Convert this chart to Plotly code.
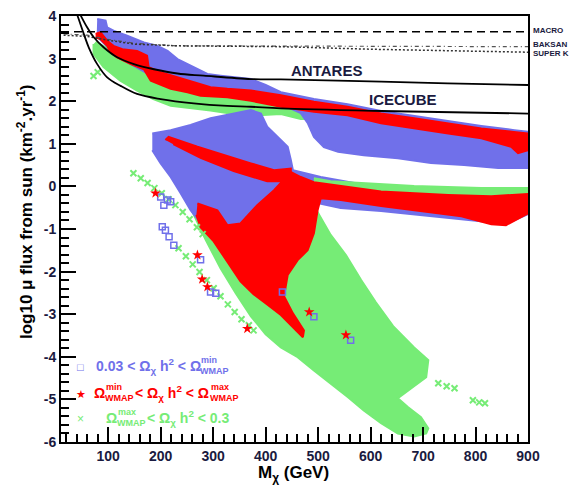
import plotly.graph_objects as go

# ---------------------------------------------------------------- data
X_RANGE = [10, 900]
Y_RANGE = [-6, 4]
X_TICKS = [100, 200, 300, 400, 500, 600, 700, 800, 900]
Y_TICKS = [-6, -5, -4, -3, -2, -1, 0, 1, 2, 3, 4]

# experimental sensitivity / limit curves (M_chi in GeV, log10 flux)
antares_m = [44, 48.5, 60, 72.5, 91.6, 117, 149, 187, 232, 282, 372, 429, 620, 747, 900]
antares_flux = [4.1, 3.99, 3.73, 3.50, 3.26, 3.03, 2.87, 2.75, 2.65, 2.60, 2.52, 2.51, 2.46, 2.42, 2.38]
icecube_m = [39, 42, 53.4, 63, 79, 98, 123.5, 155, 200, 263, 327, 372, 429, 620, 900]
icecube_flux = [4.1, 3.99, 3.58, 3.26, 2.87, 2.56, 2.36, 2.17, 2.05, 1.95, 1.89, 1.87, 1.83, 1.77, 1.71]
macro_m = [10, 900]
macro_flux = [3.63, 3.63]
baksan_m = [15, 60, 100, 150, 230, 430, 900]
baksan_flux = [3.58, 3.55, 3.45, 3.36, 3.30, 3.29, 3.28]
superk_m = [15, 60, 100, 150, 230, 430, 600, 900]
superk_flux = [3.55, 3.52, 3.43, 3.34, 3.30, 3.28, 3.22, 3.15]

# 0.03 < Omega h^2 < Omega_WMAP^min  (blue)
blue_upper_m = [79, 95, 98, 111, 136, 168, 194, 213, 232, 263, 289, 314, 340, 372, 400, 429,
                492, 556, 620, 683, 748, 811, 874, 900,
                900, 843, 778, 715, 652, 587, 538, 511, 492, 480, 467, 429, 372, 276, 181, 123, 95, 78]
blue_upper_flux = [3.93, 3.89, 3.73, 3.65, 3.54, 3.38, 3.30, 3.18, 2.99, 2.79, 2.64, 2.60, 2.56, 2.52, 2.38, 2.21,
                   2.05, 1.93, 1.77, 1.65, 1.53, 1.42, 1.32, 1.28,
                   0.43, 0.43, 0.50, 0.55, 0.66, 0.73, 0.81, 0.92, 1.16, 1.49, 1.72, 1.93, 2.05, 2.21, 2.61, 3.01, 3.32, 3.53]
blue_mid_m = [184, 219, 257, 295, 340, 372, 391, 403, 423, 442, 448, 452, 505, 582, 658, 753, 849, 900,
              900, 862, 810, 753, 683, 620, 543, 499, 467, 438, 403, 365, 339, 305, 276, 257, 238, 219, 200, 184]
blue_mid_flux = [1.24, 1.32, 1.44, 1.60, 1.71, 1.79, 1.71, 1.40, 1.16, 0.93, 0.62, 0.38, 0.22, 0.05, -0.04, -0.16, -0.23, -0.25,
                 -0.65, -0.86, -0.82, -0.75, -0.65, -0.58, -0.51, -0.39, -0.20, -0.04, -0.32, -0.79, -1.03, -1.07, -0.86, -0.56, -0.16, 0.22, 0.54, 0.85]
blue_pts_m = [200, 213, 219, 206, 203, 209, 216, 225, 276, 295, 305, 432, 492, 562]
blue_pts_flux = [-0.25, -0.32, -0.36, -0.44, -0.95, -1.03, -1.18, -1.38, -1.72, -2.48, -2.51, -2.48, -3.06, -3.61]

# Omega_WMAP^min < Omega h^2 < Omega_WMAP^max  (red)
red_upper_m = [76, 85, 98, 110, 127, 155, 174, 177, 200, 232, 263, 295, 327, 372, 429, 492, 556, 620, 683, 748, 811, 873, 900,
               900, 881, 868, 811, 748, 683, 620, 556, 492, 429, 372, 327, 276, 251, 219, 181, 168, 143, 117, 104, 98, 85, 76]
red_upper_flux = [3.58, 3.62, 3.42, 3.30, 3.22, 3.18, 3.07, 2.80, 2.68, 2.56, 2.44, 2.33, 2.29, 2.25, 2.14, 1.99, 1.87, 1.71, 1.60, 1.48, 1.36, 1.28, 1.24,
                  0.85, 0.78, 0.93, 1.13, 1.24, 1.36, 1.48, 1.67, 1.75, 1.87, 2.01, 2.09, 2.13, 2.21, 2.29, 2.48, 2.75, 2.87, 3.03, 3.15, 3.30, 3.46, 3.50]
red_stripe_m = [209, 215, 270, 320, 372, 416, 448, 448, 435, 403, 339, 276, 224]
red_stripe_flux = [1.09, 1.16, 0.93, 0.73, 0.54, 0.38, 0.42, 0.21, 0.12, 0.12, 0.36, 0.67, 0.99]
red_main_m = [270, 308, 327, 352, 384, 416, 448, 467, 492, 563, 620, 748, 830, 900,
              900, 858, 830, 773, 696, 620, 543, 505, 499, 492, 480, 461, 442, 435, 452, 473, 471,
              454, 429, 403, 377, 352, 327, 301, 276, 268]
red_main_flux = [-0.40, -0.56, -0.91, -0.87, -0.44, -0.09, 0.34, 0.22, 0.10, -0.02, -0.12, -0.20, -0.23, -0.18,
                 -0.63, -0.91, -0.89, -0.70, -0.58, -0.46, -0.32, -0.28, -0.56, -1.10, -1.50, -1.73, -2.08, -2.58, -2.98, -3.38, -3.54,
                 -3.33, -3.02, -2.77, -2.53, -2.23, -1.76, -1.29, -0.96, -0.67]
red_pts_m = [190, 270, 279, 289, 365, 483, 553]
red_pts_flux = [-0.16, -1.61, -2.18, -2.36, -3.34, -2.95, -3.49]

# Omega_WMAP^max < Omega h^2 < 0.3  (green)
green_upper_m = [76, 97, 162, 181, 276, 372, 429, 467, 543, 543, 467, 429, 372, 339, 295, 263, 219, 186, 155, 123, 91, 72, 72]
green_upper_flux = [3.39, 3.25, 2.92, 2.54, 2.21, 2.07, 1.93, 1.79, 1.66, 1.60, 1.58, 1.70, 1.66, 1.70, 1.78, 1.82, 1.89, 2.05, 2.25, 2.48, 2.80, 3.11, 3.34]
green_band_m = [492, 524, 683, 811, 900, 900, 492]
green_band_flux = [0.19, 0.12, 0.01, -0.04, -0.04, -0.32, -0.13]
green_main_m = [257, 286, 314, 343, 372, 400, 429, 461, 492, 524, 557, 587, 620, 652, 683, 706, 710, 696, 671, 652,
                677, 706, 710, 683, 643, 610, 582, 553, 524, 497, 476, 457, 391, 314, 267]
green_main_flux = [-0.51, -1.26, -1.92, -2.51, -3.05, -3.47, -3.78, -4.01, -4.32, -4.62, -4.95, -5.26, -5.56, -5.80, -5.87, -5.80, -5.68, -5.42, -5.18, -4.97,
                   -4.74, -4.48, -4.08, -3.78, -3.28, -2.72, -2.20, -1.61, -1.14, -0.56, -0.20, 0.15, -0.21, -0.56, -0.44]
green_pts_m = [72, 80,
               148, 162, 175, 188, 202, 215, 228, 242, 255, 269, 280,
               234, 248, 261, 274, 288, 301, 314, 328, 341, 354, 368, 377,
               729, 745, 760, 795, 807, 818]
green_pts_flux = [2.59, 2.68,
                  0.31, 0.19, 0.08, -0.04, -0.16, -0.30, -0.44, -0.60, -0.77, -0.96, -1.12,
                  -1.45, -1.64, -1.83, -2.01, -2.20, -2.39, -2.58, -2.77, -2.95, -3.12, -3.26, -3.38,
                  -4.62, -4.69, -4.74, -5.02, -5.07, -5.09]

# ---------------------------------------------------------------- style
BLUE = "rgb(112,112,234)"
RED = "rgb(255,0,0)"
GREEN = "rgb(118,236,118)"
INK = "#1a1a40"
FONT = "Liberation Sans, Arial, sans-serif"

W, H = 573, 487
ML, MR, MT, MB = 61, 45, 16, 45


def px(x):
    return (x - ML) / (W - ML - MR)


def py(y):
    return (H - MB - y) / (H - MT - MB)


fig = go.Figure()


def region(m, f, color):
    fig.add_trace(go.Scatter(x=m, y=f, mode="lines", fill="toself", fillcolor=color,
                             line=dict(color=color, width=2), hoverinfo="skip", showlegend=False))


# green first, then blue, then red on top
region(green_upper_m, green_upper_flux, GREEN)
region(green_main_m, green_main_flux, GREEN)
region(blue_upper_m, blue_upper_flux, BLUE)
region(blue_mid_m, blue_mid_flux, BLUE)
region(green_band_m, green_band_flux, GREEN)
region(red_upper_m, red_upper_flux, RED)
region(red_stripe_m, red_stripe_flux, RED)
region(red_main_m, red_main_flux, RED)

fig.add_trace(go.Scatter(x=green_pts_m, y=green_pts_flux, mode="markers",
                         marker=dict(symbol="x-thin", size=6, line=dict(color=GREEN, width=2)),
                         hoverinfo="skip", showlegend=False))
fig.add_trace(go.Scatter(x=blue_pts_m, y=blue_pts_flux, mode="markers",
                         marker=dict(symbol="square-open", size=6, color=BLUE, line=dict(width=1.5)),
                         hoverinfo="skip", showlegend=False))
fig.add_trace(go.Scatter(x=red_pts_m, y=red_pts_flux, mode="markers",
                         marker=dict(symbol="star", size=8, color=RED),
                         hoverinfo="skip", showlegend=False))

# limit curves
fig.add_trace(go.Scatter(x=macro_m, y=macro_flux, mode="lines",
                         line=dict(color="black", width=1.5, dash="8px,5px"), hoverinfo="skip", showlegend=False))
fig.add_trace(go.Scatter(x=baksan_m, y=baksan_flux, mode="lines",
                         line=dict(color="#555555", width=1.2, dash="4px,3px,1px,3px"), hoverinfo="skip", showlegend=False))
fig.add_trace(go.Scatter(x=superk_m, y=superk_flux, mode="lines",
                         line=dict(color="#333333", width=1.5, dash="2px,2px"), hoverinfo="skip", showlegend=False))
fig.add_trace(go.Scatter(x=antares_m, y=antares_flux, mode="lines", line_shape="spline",
                         line=dict(color="black", width=1.8), hoverinfo="skip", showlegend=False))
fig.add_trace(go.Scatter(x=icecube_m, y=icecube_flux, mode="lines", line_shape="spline",
                         line=dict(color="black", width=1.8), hoverinfo="skip", showlegend=False))

ann = []


def text(x, y, s, size, color=INK, anchor="left", angle=0):
    ann.append(dict(x=px(x), y=py(y), xref="paper", yref="paper", text=s, showarrow=False,
                    xanchor=anchor, yanchor="middle", textangle=angle, borderpad=0,
                    font=dict(family=FONT, size=size, color=color)))


# curve and experiment labels
text(326, 70, "<b>ANTARES</b>", 15, anchor="center")
text(403, 100, "<b>ICECUBE</b>", 15, anchor="center")
text(532, 31, "<b>MACRO</b>", 8)
text(532, 45, "<b>BAKSAN</b>", 8)
text(532, 53, "<b>SUPER K</b>", 8)

# axis titles
text(25, 212, "<b>log10 \u03bc flux from sun (km<sup>-2</sup>.yr<sup>-1</sup>)</b>", 17, color="black",
     anchor="center", angle=-90)
text(293, 474, "<b>M<sub>\u03c7</sub> (GeV)</b>", 17, color="black", anchor="center")

# key
text(80, 367, "\u25a1", 11, color=BLUE, anchor="center")
text(95, 366, "<b>0.03 < \u03a9<sub>\u03c7</sub> h<sup>2</sup> < \u03a9</b>", 14, color=BLUE)
text(200, 360, "<b>min</b>", 9, color=BLUE)
text(199, 371, "<b>WMAP</b>", 9, color=BLUE)

text(81, 394, "\u2605", 11, color=RED, anchor="center")
text(93, 393, "<b>\u03a9</b>", 14, color=RED)
text(105, 387, "<b>min</b>", 9, color=RED)
text(104, 398, "<b>WMAP</b>", 9, color=RED)
text(134, 393, "<b>< \u03a9<sub>\u03c7</sub> h<sup>2</sup> < \u03a9</b>", 14, color=RED)
text(210, 387, "<b>max</b>", 9, color=RED)
text(209, 398, "<b>WMAP</b>", 9, color=RED)

text(80, 419, "\u00d7", 12, color=GREEN, anchor="center")
text(105, 418, "<b>\u03a9</b>", 14, color=GREEN)
text(117, 412, "<b>max</b>", 9, color=GREEN)
text(116, 423, "<b>WMAP</b>", 9, color=GREEN)
text(146, 418, "<b>< \u03a9<sub>\u03c7</sub> h<sup>2</sup> < 0.3</b>", 14, color=GREEN)

axis_common = dict(showgrid=False, zeroline=False, showline=True, linecolor="black", linewidth=2,
                   mirror=True, ticks="inside", ticklen=15, tickwidth=1.5, tickcolor="black",
                   automargin=False, tickfont=dict(family=FONT, size=14, color=INK))

fig.update_layout(
    width=W, height=H,
    margin=dict(l=ML, r=MR, t=MT, b=MB),
    paper_bgcolor="white", plot_bgcolor="white",
    showlegend=False,
    annotations=ann,
    xaxis=dict(range=X_RANGE, tickmode="array", tickvals=X_TICKS,
               ticktext=["<b>%d</b>" % v for v in X_TICKS],
               minor=dict(dtick=20, tick0=0, ticklen=8, ticks="inside", tickcolor="black", tickwidth=1.5),
               **axis_common),
    yaxis=dict(range=Y_RANGE, tickmode="array", tickvals=Y_TICKS,
               ticktext=["<b>%d</b>" % v for v in Y_TICKS],
               minor=dict(dtick=0.2, tick0=0, ticklen=8, ticks="inside", tickcolor="black", tickwidth=1.5),
               **axis_common),
)

fig.write_html("out.html")
